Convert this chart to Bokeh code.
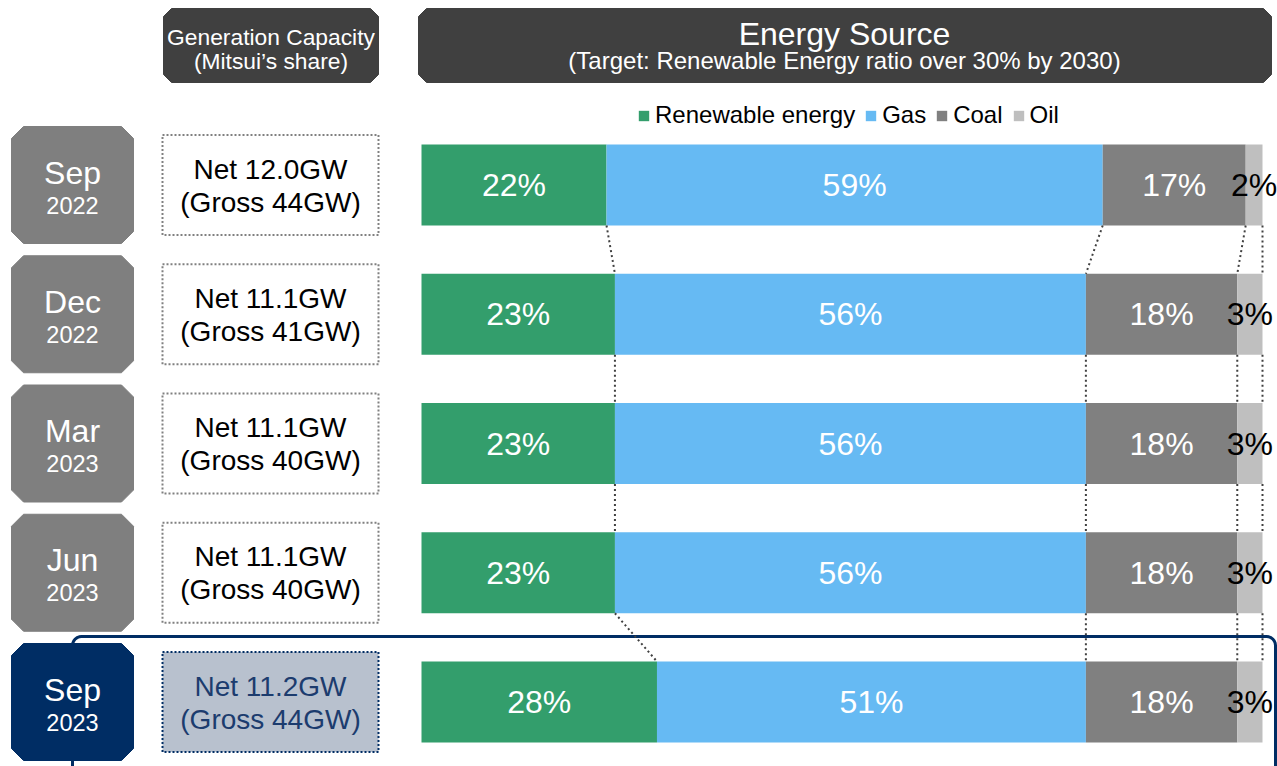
import math
from bokeh.plotting import figure
from bokeh.models import Range1d, ColumnDataSource, Legend, LegendItem
from bokeh.embed import file_html
from bokeh.resources import INLINE
from bokeh.core.properties import value

# ---------------- data ----------------
periods = ["Sep", "Dec", "Mar", "Jun", "Sep"]
years = ["2022", "2022", "2023", "2023", "2023"]
net_gw = ["12.0", "11.1", "11.1", "11.1", "11.2"]
gross_gw = ["44", "41", "40", "40", "44"]
sources = ["Renewable energy", "Gas", "Coal", "Oil"]
renewable = [22, 23, 23, 23, 28]
gas = [59, 56, 56, 56, 51]
coal = [17, 18, 18, 18, 18]
oil = [2, 3, 3, 3, 3]
series = [renewable, gas, coal, oil]

# ---------------- style ----------------
FONT = value("Liberation Sans")
COLORS = ["#339e6c", "#66baf3", "#808080", "#bfbfbf"]
LABEL_COLORS = ["white", "white", "white", "black"]
GRAY_BOX = "#7f7f7f"
NAVY = "#002d64"
DARK = "#404040"

W, H = 1277, 766
# pixel layout helpers (page pixel -> data units)
PX0, PX100 = 421.0, 1262.0
ROW0, PITCH = 184.5, 129.25
BAR_H = 81.0


def X(px):
    return (px - PX0) / (PX100 - PX0) * 100.0


def Y(py):
    return (py - ROW0) / PITCH


def chamfer(x0, y0, x1, y1, c):
    xs = [x0 + c, x1 - c, x1, x1, x1 - c, x0 + c, x0, x0]
    ys = [y0, y0, y0 + c, y1 - c, y1, y1, y1 - c, y0 + c]
    return [X(v) for v in xs], [Y(v) for v in ys]


p = figure(width=W, height=H,
           x_range=Range1d(X(0), X(W)), y_range=Range1d(Y(H), Y(0)),
           output_backend="svg", toolbar_location=None,
           x_axis_location=None, y_axis_location=None,
           min_border=0, outline_line_color=None)
p.grid.visible = False
p.background_fill_color = "white"

n = len(periods)
rows = list(range(n))

# ---------------- highlight outline for latest row ----------------
r_c = 9
ox, oy = [], []
ox.append(72); oy.append(800)
for k in range(0, 7):
    a = math.pi - k * (math.pi / 2) / 6
    ox.append(72 + r_c + r_c * math.cos(a)); oy.append(636 + r_c - r_c * math.sin(a))
for k in range(0, 7):
    a = math.pi / 2 - k * (math.pi / 2) / 6
    ox.append(1275 - r_c + r_c * math.cos(a)); oy.append(636 + r_c - r_c * math.sin(a))
ox.append(1275); oy.append(800)
p.line([X(v) for v in ox], [Y(v) for v in oy], line_color=NAVY, line_width=3)

# ---------------- header boxes ----------------
hx, hy = chamfer(163, 8, 378, 82, 8)
p.patch(hx, hy, fill_color=DARK, line_color=DARK)
hx, hy = chamfer(418, 8, 1271, 82, 8)
p.patch(hx, hy, fill_color=DARK, line_color=DARK)
p.text(x=[X(270.5)], y=[Y(36)], text=["Generation Capacity"], text_font=FONT,
       text_font_size=value("22.8px"), text_color="white", text_align="center", text_baseline="middle")
p.text(x=[X(270.5)], y=[Y(60)], text=["(Mitsui\u2019s share)"], text_font=FONT,
       text_font_size=value("22.8px"), text_color="white", text_align="center", text_baseline="middle")
p.text(x=[X(844)], y=[Y(33)], text=["Energy Source"], text_font=FONT,
       text_font_size=value("32px"), text_color="white", text_align="center", text_baseline="middle")
p.text(x=[X(844)], y=[Y(60)], text=["(Target: Renewable Energy ratio over 30% by 2030)"], text_font=FONT,
       text_font_size=value("24px"), text_color="white", text_align="center", text_baseline="middle")

# ---------------- date boxes & capacity boxes ----------------
for i in rows:
    cy = ROW0 + i * PITCH
    latest = (i == n - 1)
    bx, by = chamfer(11, cy - 58.5, 133, cy + 58.5, 12)
    col = NAVY if latest else GRAY_BOX
    p.patch(bx, by, fill_color=col, line_color=col)
    p.quad(left=[X(162)], right=[X(378)], top=[Y(cy - 50)], bottom=[Y(cy + 50)],
           fill_color="#b8c1ce" if latest else "white",
           line_color=NAVY if latest else "#808080", line_width=2, line_dash="2 2")

date_src = ColumnDataSource(dict(
    x=[X(72)] * n,
    y1=[Y(ROW0 + i * PITCH - 12.5) for i in rows],
    y2=[Y(ROW0 + i * PITCH + 20) for i in rows],
    period=periods, year=years))
p.text(x="x", y="y1", text="period", source=date_src, text_font=FONT, text_font_size=value("32px"),
       text_color="white", text_align="center", text_baseline="middle")
p.text(x="x", y="y2", text="year", source=date_src, text_font=FONT, text_font_size=value("23.5px"),
       text_color="white", text_align="center", text_baseline="middle")

cap_src = ColumnDataSource(dict(
    x=[X(270)] * n,
    y1=[Y(ROW0 + i * PITCH - 16) for i in rows],
    y2=[Y(ROW0 + i * PITCH + 17) for i in rows],
    net=["Net %sGW" % v for v in net_gw],
    gross=["(Gross %sGW)" % v for v in gross_gw],
    color=["black"] * (n - 1) + ["#1c3c6e"]))
p.text(x="x", y="y1", text="net", source=cap_src, text_font=FONT, text_font_size=value("28px"),
       text_color="color", text_align="center", text_baseline="middle")
p.text(x="x", y="y2", text="gross", source=cap_src, text_font=FONT, text_font_size=value("28px"),
       text_color="color", text_align="center", text_baseline="middle")

# ---------------- stacked bars ----------------
bar_h = BAR_H / PITCH
cum = [[0.0] * n]
for s in series:
    cum.append([a + b for a, b in zip(cum[-1], s)])

legend_items = []
for k, (name, s) in enumerate(zip(sources, series)):
    src = ColumnDataSource(dict(
        y=rows, left=cum[k], right=cum[k + 1],
        mid=[(a + b) / 2 for a, b in zip(cum[k], cum[k + 1])],
        label=["%d%%" % v for v in s]))
    r = p.hbar(y="y", left="left", right="right", height=bar_h, source=src,
               fill_color=COLORS[k], line_color=None)
    legend_items.append(LegendItem(label=name, renderers=[r]))
    p.text(x="mid", y="y", text="label", source=src, text_font=FONT, text_font_size=value("32px"),
           text_color=LABEL_COLORS[k], text_align="center", text_baseline="middle")

# ---------------- dotted connectors ----------------
x0s, y0s, x1s, y1s = [], [], [], []
for i in range(n - 1):
    for k in range(1, len(cum)):
        x0s.append(cum[k][i]); y0s.append(i + bar_h / 2)
        x1s.append(cum[k][i + 1]); y1s.append(i + 1 - bar_h / 2)
p.segment(x0=x0s, y0=y0s, x1=x1s, y1=y1s, line_color="#404040", line_width=2, line_dash="2 3")

# ---------------- legend ----------------
legend = Legend(items=legend_items, orientation="horizontal", location=(637, 637),
                glyph_width=13, glyph_height=13, label_standoff=5, spacing=9,
                padding=0, margin=0, label_text_font="Liberation Sans",
                label_text_font_size="24px", label_text_color="black",
                background_fill_alpha=0, border_line_alpha=0)
p.add_layout(legend)

open("out.html", "w").write(file_html(p, INLINE))
